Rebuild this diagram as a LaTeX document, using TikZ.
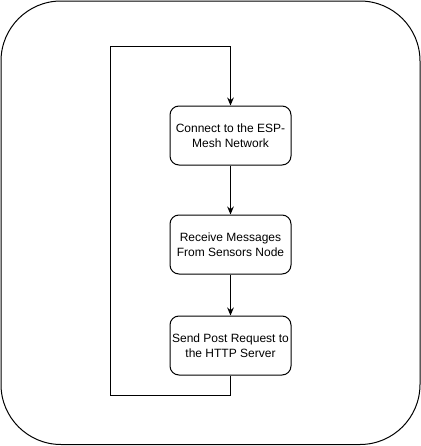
\documentclass[tikz,border=0pt]{standalone}
\usepackage{fontspec}
\setmainfont{Liberation Sans}
\usetikzlibrary{arrows.meta}
\begin{document}
\begin{tikzpicture}[x=0.75pt,y=-0.75pt,
  stepbox/.style={draw,line width=0.75pt,rounded corners=6.75pt,minimum width=90.75pt,minimum height=44.25pt,align=center,inner sep=0pt,font=\fontsize{9}{11}\selectfont},
  conn/.style={line width=0.75pt,-{Stealth[length=6pt,width=5pt]}},
  loop/.style={line width=0.75pt}]
\useasboundingbox (0,0) rectangle (421,446);
\draw[line width=0.75pt,rounded corners=45pt] (1,1) rectangle (420,444.5);
\node[stepbox] (a) at (230.5,135.5) {Connect to the ESP-\\Mesh Network};
\node[stepbox] (b) at (230.5,244.5) {Receive Messages\\From Sensors Node};
\node[stepbox] (c) at (230.5,345.5) {Send Post Request to\\the HTTP Server};
\coordinate (p1) at (230.5,395);
\coordinate (p2) at (110.5,395);
\coordinate (p3) at (110.5,46);
\coordinate (p4) at (230.5,46);
\draw[conn] (a) -- (b);
\draw[conn] (b) -- (c);
\draw[loop] (c.south) -- (p1) -- (p2) -- (p3) -- (p4);
\draw[conn] (p4) -- (a.north);
\end{tikzpicture}
\end{document}
